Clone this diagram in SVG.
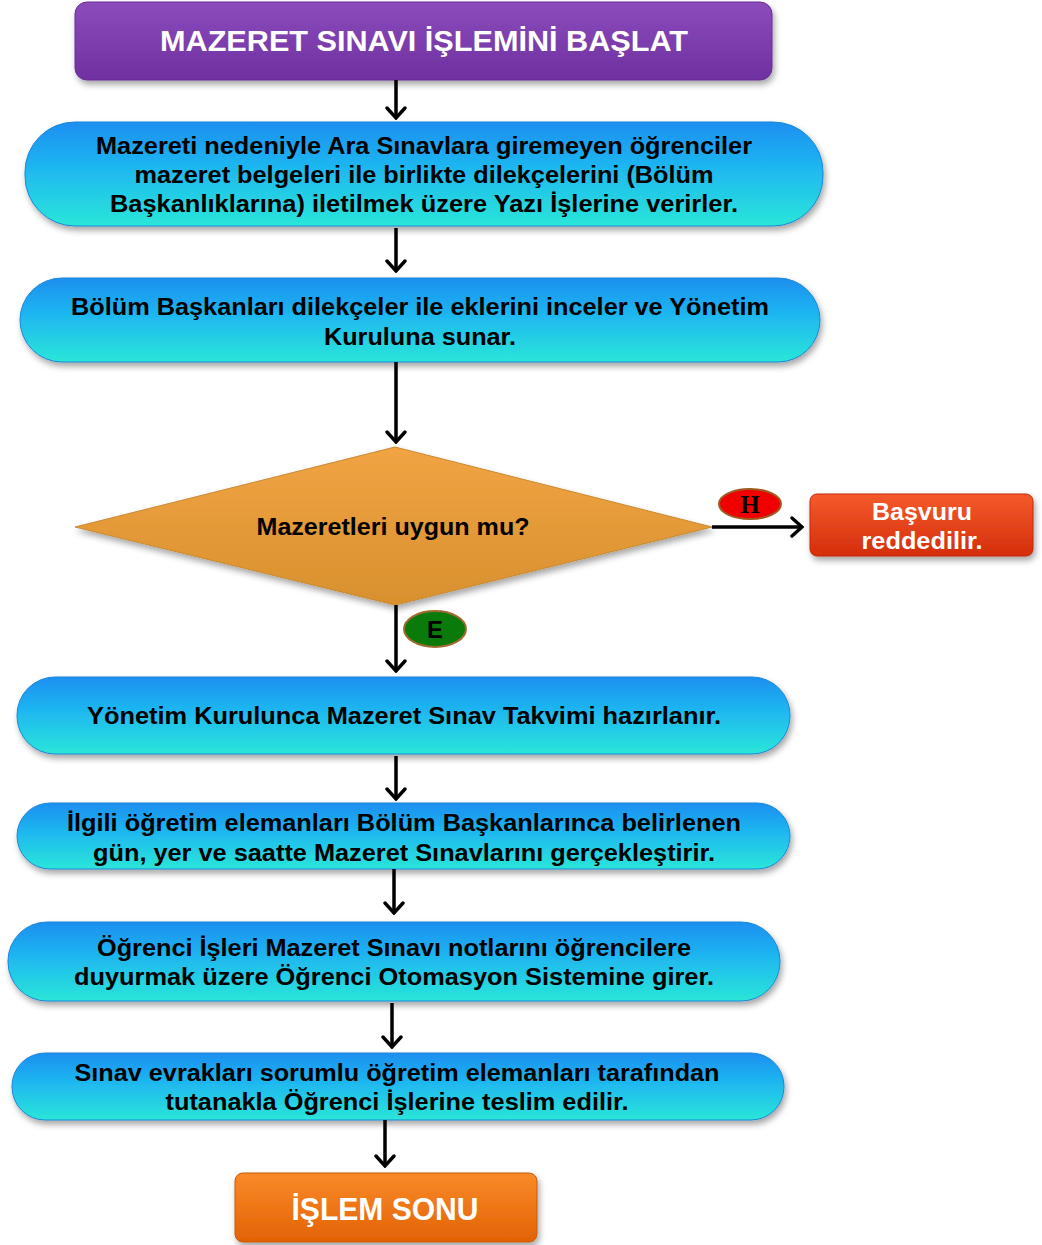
<svg xmlns="http://www.w3.org/2000/svg" width="1042" height="1245" viewBox="0 0 1042 1245">
<defs>
<linearGradient id="gBlue" x1="0" y1="0" x2="0" y2="1">
<stop offset="0" stop-color="#1c8ff0"/>
<stop offset="0.45" stop-color="#1fb8f0"/>
<stop offset="1" stop-color="#2ae6d8"/>
</linearGradient>
<linearGradient id="gPurple" x1="0" y1="0" x2="0" y2="1">
<stop offset="0" stop-color="#8c4cbc"/>
<stop offset="1" stop-color="#6f30a0"/>
</linearGradient>
<linearGradient id="gOrange" x1="0" y1="0" x2="0" y2="1">
<stop offset="0" stop-color="#f2a444"/>
<stop offset="1" stop-color="#d8902e"/>
</linearGradient>
<linearGradient id="gRed" x1="0" y1="0" x2="0" y2="1">
<stop offset="0" stop-color="#f65a2a"/>
<stop offset="1" stop-color="#d42e0c"/>
</linearGradient>
<linearGradient id="gEnd" x1="0" y1="0" x2="0" y2="1">
<stop offset="0" stop-color="#fa8a2a"/>
<stop offset="1" stop-color="#e26204"/>
</linearGradient>
<filter id="sh" x="-5%" y="-10%" width="110%" height="130%">
<feDropShadow dx="2" dy="4" stdDeviation="3" flood-color="#000" flood-opacity="0.35"/>
</filter>
<marker id="arr" markerWidth="14" markerHeight="22" refX="12" refY="11" orient="auto" markerUnits="userSpaceOnUse">
<path d="M2,2 L12,11 L2,20" fill="none" stroke="#000" stroke-width="3.4" stroke-linecap="round" stroke-linejoin="miter"/>
</marker>
</defs>
<style>
.t{font-family:"Liberation Sans",Arial,sans-serif;font-weight:bold;font-size:23px;fill:#000;text-anchor:middle}
.w{font-family:"Liberation Sans",Arial,sans-serif;font-weight:bold;fill:#fff;text-anchor:middle}
.pill{fill:url(#gBlue);stroke:#1a86d8;stroke-width:1;filter:url(#sh)}
.c{stroke:#000;stroke-width:3.5;fill:none;marker-end:url(#arr)}
</style>
<rect width="1042" height="1245" fill="#fff"/>

<g id="start">
<rect x="75" y="2" width="697" height="78" rx="12" fill="url(#gPurple)" stroke="#6a2c98" filter="url(#sh)"/>
<text class="w" x="424" y="51" font-size="29" textLength="528" lengthAdjust="spacingAndGlyphs">MAZERET SINAVI İŞLEMİNİ BAŞLAT</text>
</g>

<g id="n1">
<rect class="pill" x="25" y="122" width="798" height="104" rx="50"/>
<text class="t" x="424" y="154" textLength="656" lengthAdjust="spacingAndGlyphs">Mazereti nedeniyle Ara Sınavlara giremeyen öğrenciler</text>
<text class="t" x="424" y="183" textLength="579" lengthAdjust="spacingAndGlyphs">mazeret belgeleri ile birlikte dilekçelerini (Bölüm</text>
<text class="t" x="424" y="212" textLength="628" lengthAdjust="spacingAndGlyphs">Başkanlıklarına) iletilmek üzere Yazı İşlerine verirler.</text>
</g>

<g id="n2">
<rect class="pill" x="20" y="278" width="800" height="84" rx="42"/>
<text class="t" x="420" y="315" textLength="698" lengthAdjust="spacingAndGlyphs">Bölüm Başkanları dilekçeler ile eklerini inceler ve Yönetim</text>
<text class="t" x="420" y="345" textLength="192" lengthAdjust="spacingAndGlyphs">Kuruluna sunar.</text>
</g>

<g id="decision">
<polygon points="75,527 395,447 712,527 395,605" fill="url(#gOrange)" stroke="#c98a30" stroke-width="1" filter="url(#sh)"/>
<text class="t" x="393" y="535" textLength="273" lengthAdjust="spacingAndGlyphs">Mazeretleri uygun mu?</text>
</g>

<g id="reject">
<rect x="810" y="494" width="223" height="62" rx="7" fill="url(#gRed)" stroke="#c02a0c" filter="url(#sh)"/>
<text class="w" x="922" y="520" font-size="23" textLength="100" lengthAdjust="spacingAndGlyphs">Başvuru</text>
<text class="w" x="922" y="549" font-size="23" textLength="121" lengthAdjust="spacingAndGlyphs">reddedilir.</text>
</g>

<g id="n3">
<rect class="pill" x="17" y="677" width="773" height="77" rx="38"/>
<text class="t" x="404" y="724" textLength="634" lengthAdjust="spacingAndGlyphs">Yönetim Kurulunca Mazeret Sınav Takvimi hazırlanır.</text>
</g>

<g id="n4">
<rect class="pill" x="17" y="803" width="773" height="66" rx="33"/>
<text class="t" x="404" y="831" textLength="674" lengthAdjust="spacingAndGlyphs">İlgili öğretim elemanları Bölüm Başkanlarınca belirlenen</text>
<text class="t" x="404" y="861" textLength="622" lengthAdjust="spacingAndGlyphs">gün, yer ve saatte Mazeret Sınavlarını gerçekleştirir.</text>
</g>

<g id="n5">
<rect class="pill" x="8" y="922" width="772" height="79" rx="39"/>
<text class="t" x="394" y="956" textLength="594" lengthAdjust="spacingAndGlyphs">Öğrenci İşleri Mazeret Sınavı notlarını öğrencilere</text>
<text class="t" x="394" y="985" textLength="640" lengthAdjust="spacingAndGlyphs">duyurmak üzere Öğrenci Otomasyon Sistemine girer.</text>
</g>

<g id="n6">
<rect class="pill" x="12" y="1053" width="772" height="67" rx="33"/>
<text class="t" x="397" y="1081" textLength="645" lengthAdjust="spacingAndGlyphs">Sınav evrakları sorumlu öğretim elemanları tarafından</text>
<text class="t" x="397" y="1110" textLength="463" lengthAdjust="spacingAndGlyphs">tutanakla Öğrenci İşlerine teslim edilir.</text>
</g>

<g id="end">
<rect x="235" y="1173" width="302" height="69" rx="8" fill="url(#gEnd)" stroke="#c85a08" filter="url(#sh)"/>
<text class="w" x="385" y="1220" font-size="31" textLength="187" lengthAdjust="spacingAndGlyphs">İŞLEM SONU</text>
</g>

<g id="connectors">
<line class="c" x1="396" y1="80" x2="396" y2="118"/>
<line class="c" x1="396" y1="228" x2="396" y2="271"/>
<line class="c" x1="396" y1="362" x2="396" y2="442"/>
<line class="c" x1="712" y1="527" x2="802" y2="527"/>
<line class="c" x1="396" y1="605" x2="396" y2="671"/>
<line class="c" x1="396" y1="756" x2="396" y2="799"/>
<line class="c" x1="394" y1="869" x2="394" y2="913"/>
<line class="c" x1="392" y1="1003" x2="392" y2="1047"/>
<line class="c" x1="385" y1="1120" x2="385" y2="1166"/>
</g>

<g id="badgeH">
<ellipse cx="750" cy="504" rx="31" ry="15" fill="#f00000" stroke="#a05a20" stroke-width="2"/>
<text x="750" y="513" font-family="'Liberation Serif','Times New Roman',serif" font-weight="bold" font-size="25" text-anchor="middle" fill="#000">H</text>
</g>

<g id="badgeE">
<ellipse cx="435" cy="629" rx="31" ry="18" fill="#0a7a0a" stroke="#a06a30" stroke-width="2"/>
<text x="435" y="638" font-family="'Liberation Sans',Arial,sans-serif" font-weight="bold" font-size="24" text-anchor="middle" fill="#000">E</text>
</g>
</svg>
